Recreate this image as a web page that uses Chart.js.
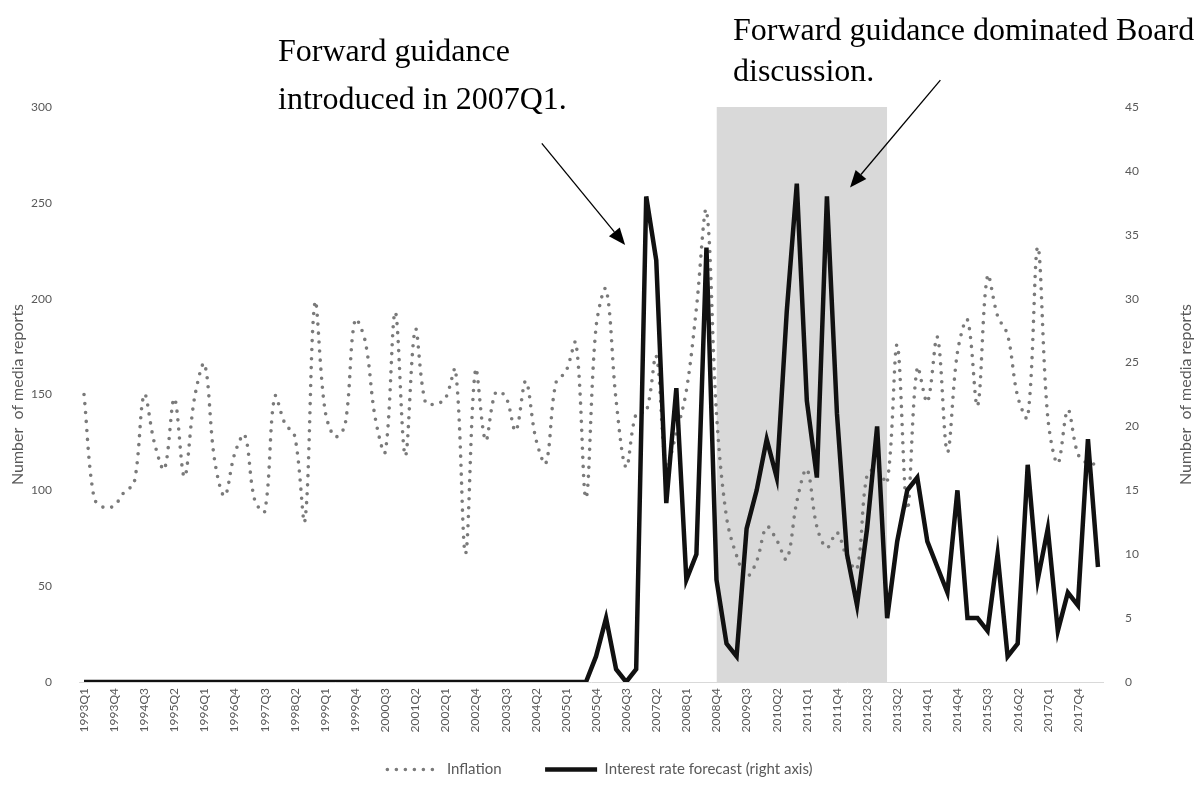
<!DOCTYPE html>
<html>
<head>
<meta charset="utf-8">
<script src="https://cdn.jsdelivr.net/npm/chart.js@4"></script>
<style>
  body { margin: 0; background: #fff; }
  #chart { display: block; }
</style>
</head>
<body>
<canvas id="chart" width="1200" height="792"></canvas>
<script>
// quarters 1993Q1 .. 2018Q2
const firstYear = 1993;
const lastQuarter = '2018Q2';
const quarters = [];
for (let yr = firstYear; !quarters.includes(lastQuarter); yr++) {
    for (let q = 1; q <= 4 && !quarters.includes(lastQuarter); q++) quarters.push(yr + 'Q' + q);
}
const tickEvery = 3;

// media reports on inflation (left axis)
const inflation = [
    150, 96, 91, 92, 99, 104, 150, 125, 111, 148,
    107, 148, 166, 116, 97, 119, 129, 95, 89, 149,
    135, 128, 84, 198, 142, 128, 134, 189, 178, 138,
    120, 193, 118, 184, 146, 145, 148, 163, 67, 163,
    126, 151, 149, 131, 157, 127, 114, 156, 162, 177,
    96, 185, 205, 147, 112, 140, 141, 170, 113, 130,
    152, 195, 246, 140, 86, 66, 55, 63, 81, 74,
    64, 94, 111, 81, 70, 78, 65, 59, 108, 111,
    104, 176, 90, 164, 146, 180, 120, 172, 189, 144,
    212, 191, 181, 149, 138, 227, 138, 114, 142, 119,
    114, 114
];

// media reports on the interest rate forecast (right axis)
const rateForecast = [
    0, 0, 0, 0, 0, 0, 0, 0, 0, 0,
    0, 0, 0, 0, 0, 0, 0, 0, 0, 0,
    0, 0, 0, 0, 0, 0, 0, 0, 0, 0,
    0, 0, 0, 0, 0, 0, 0, 0, 0, 0,
    0, 0, 0, 0, 0, 0, 0, 0, 0, 0,
    0, 2, 5, 1, 0, 1, 38, 33, 14, 23,
    8, 10, 34, 8, 3, 2, 12, 15, 19, 16,
    29, 39, 22, 16, 38, 21, 10, 6, 12, 20,
    5, 11, 15, 16, 11, 9, 7, 15, 5, 5,
    4, 10, 2, 3, 17, 8, 12, 4, 7, 6,
    19, 9
];

// grey band: forward guidance dominated Board discussion (drawn point to point)
const shadedFrom = '2008Q4';
const shadedTo = '2013Q1';
const leftMax = 300, rightMax = 45;

const iFrom = quarters.indexOf(shadedFrom), iTo = quarters.indexOf(shadedTo);
const shade = quarters.map((q, i) => (i >= iFrom && i <= iTo) ? leftMax : null);

const grey = '#595959';
const tickFont = { family: 'Lato', size: 12 };

const notes = {
    id: 'notes',
    afterDraw(chart) {
        const { ctx, scales: { x, y } } = chart;
        ctx.save();
        // right axis title, reading bottom to top like Excel
        ctx.font = '16px Lato';
        ctx.fillStyle = grey;
        ctx.textAlign = 'center';
        ctx.textBaseline = 'middle';
        ctx.translate(1186, (chart.chartArea.top + chart.chartArea.bottom) / 2);
        ctx.rotate(-Math.PI / 2);
        ctx.fillText('Number  of media reports', 0, 0);
        ctx.restore();

        ctx.save();
        ctx.font = '32px "Liberation Serif"';
        ctx.fillStyle = '#000';
        ctx.textAlign = 'left';
        ctx.textBaseline = 'alphabetic';
        ctx.fillText('Forward guidance', 278, 61);
        ctx.fillText('introduced in 2007Q1.', 278, 109);
        ctx.fillText('Forward guidance dominated Board', 733, 40);
        ctx.fillText('discussion.', 733, 81);

        const arrow = (x1, y1, x2, y2) => {
            const a = Math.atan2(y2 - y1, x2 - x1);
            const len = 17, half = 7;
            ctx.strokeStyle = '#000';
            ctx.lineWidth = 1.3;
            ctx.beginPath();
            ctx.moveTo(x1, y1);
            ctx.lineTo(x2 - len * Math.cos(a), y2 - len * Math.sin(a));
            ctx.stroke();
            ctx.beginPath();
            ctx.moveTo(x2, y2);
            ctx.lineTo(x2 - len * Math.cos(a) + half * Math.sin(a), y2 - len * Math.sin(a) - half * Math.cos(a));
            ctx.lineTo(x2 - len * Math.cos(a) - half * Math.sin(a), y2 - len * Math.sin(a) + half * Math.cos(a));
            ctx.closePath();
            ctx.fill();
        };
        arrow(x.getPixelForValue(45.6), y.getPixelForValue(281), x.getPixelForValue(53.9), y.getPixelForValue(228));
        arrow(x.getPixelForValue(85.3), y.getPixelForValue(314), x.getPixelForValue(76.3), y.getPixelForValue(258));
        ctx.restore();
    }
};

new Chart(document.getElementById('chart'), {
    type: 'line',
    data: {
        labels: quarters,
        datasets: [
            {
                label: 'Interest rate forecast (right axis)',
                data: rateForecast,
                yAxisID: 'y1',
                borderColor: '#111',
                borderWidth: 4.5,
                borderJoinStyle: 'miter',
                pointRadius: 0,
                tension: 0,
                order: 1
            },
            {
                label: 'Inflation',
                data: inflation,
                yAxisID: 'y',
                borderColor: '#7a7a7a',
                borderWidth: 3.6,
                borderDash: [0, 9],
                borderCapStyle: 'round',
                pointRadius: 0,
                tension: 0.35,
                order: 2
            },
            {
                label: 'shade',
                data: shade,
                yAxisID: 'y',
                borderWidth: 0,
                borderColor: 'rgba(0,0,0,0)',
                backgroundColor: '#d9d9d9',
                fill: 'origin',
                pointRadius: 0,
                tension: 0,
                order: 3
            }
        ]
    },
    options: {
        responsive: false,
        devicePixelRatio: 1,
        animation: false,
        layout: { padding: { top: 107, bottom: 5, left: 0, right: 0 } },
        plugins: {
            tooltip: { enabled: false },
            legend: {
                position: 'bottom',
                labels: {
                    color: grey,
                    font: { family: 'Lato', size: 15 },
                    usePointStyle: true,
                    pointStyleWidth: 52,
                    padding: 9,
                    generateLabels(chart) {
                        return chart.data.datasets.slice(0, 2).reverse().map((ds, i) => ({
                            // extra trailing space keeps the wide Excel gap between the two entries
                            text: i === 0 ? ds.label + '         ' : ds.label,
                            fillStyle: ds.borderColor,
                            strokeStyle: ds.borderColor,
                            lineWidth: ds.borderWidth,
                            lineDash: ds.borderDash || [],
                            lineCap: ds.borderCapStyle || 'butt',
                            pointStyle: 'line',
                            fontColor: grey
                        }));
                    }
                }
            }
        },
        scales: {
            x: {
                type: 'category',
                offset: true,
                grid: { display: false, drawTicks: false },
                border: { display: true, color: '#d9d9d9', width: 1 },
                ticks: {
                    autoSkip: false,
                    minRotation: 90,
                    maxRotation: 90,
                    padding: 6,
                    color: grey,
                    font: tickFont,
                    callback: (v, i) => (i % tickEvery === 0 ? quarters[i] : null)
                },
                afterFit: s => { s.height = 71; }
            },
            y: {
                position: 'left',
                min: 0,
                max: leftMax,
                grid: { display: false, drawTicks: false },
                border: { display: false },
                ticks: { stepSize: 50, padding: 27, color: grey, font: tickFont },
                title: {
                    display: true,
                    text: 'Number  of media reports',
                    color: grey,
                    font: { family: 'Lato', size: 16 },
                    padding: { top: 8, bottom: 0 }
                },
                afterFit: s => { s.width = 79; }
            },
            y1: {
                position: 'right',
                min: 0,
                max: rightMax,
                grid: { display: false, drawTicks: false },
                border: { display: false },
                ticks: { stepSize: 5, padding: 22, color: grey, font: tickFont },
                afterFit: s => { s.width = 97; }
            }
        }
    },
    plugins: [notes]
});
</script>
</body>
</html>
